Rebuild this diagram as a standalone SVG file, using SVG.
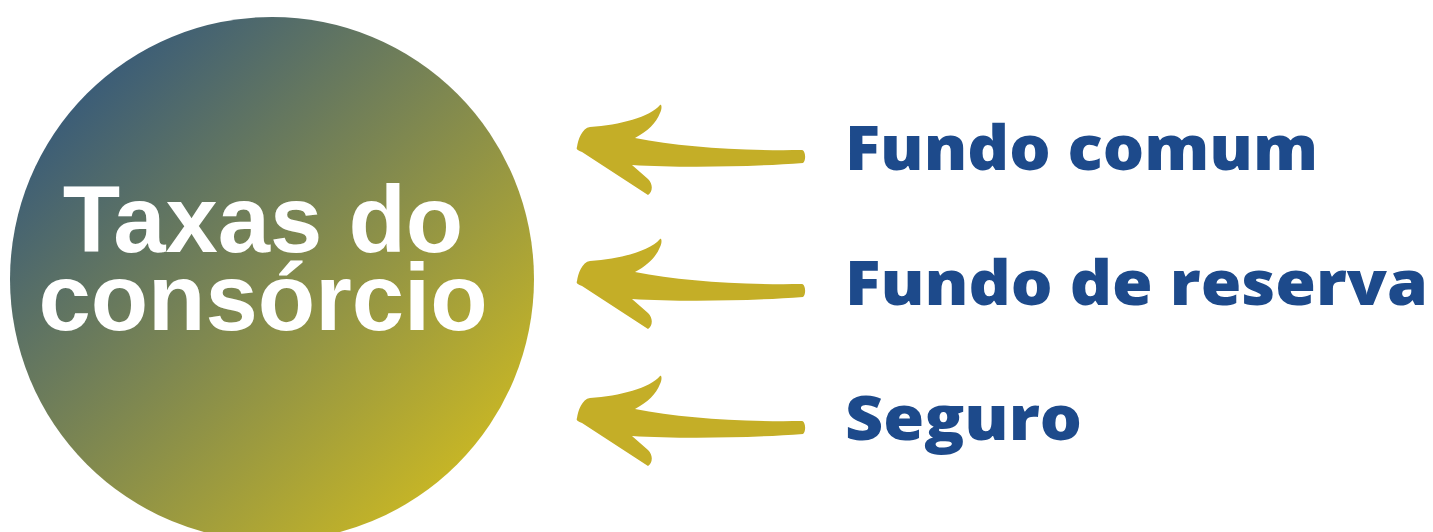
<svg xmlns="http://www.w3.org/2000/svg" width="1433" height="532" viewBox="0 0 1433 532">
<defs>
<linearGradient id="g" x1="0.12" y1="0.12" x2="0.92" y2="0.92">
<stop offset="0" stop-color="#375a7a"/>
<stop offset="1" stop-color="#d2bd1f"/>
</linearGradient>
<path id="arrow" d="M7,52 C8,45 12,33 20,32 C50,30 80,22 90,10 C92,8 92,15 90,18 C86,28 78,36 65,43 C110,52 170,56 232,55 C236,56 236,66 233,68 C180,72 110,73 62,70 L78,84 C84,90 82,98 78,100 L12,57 C7,55 6,54 7,52 Z"/>
</defs>
<style>
.lbl{font-family:"Open Sans","Liberation Sans",sans-serif;font-weight:800;font-size:62px;fill:#1d4a8b}
.title{font-family:"Liberation Sans",Arial,sans-serif;font-weight:bold;font-size:94px;fill:#fff}
.arr{fill:#c4ae27}
</style>
<rect width="1433" height="532" fill="#fff"/>
<g id="circle">
<circle cx="272" cy="279" r="262" fill="url(#g)"/>
<text class="title" x="263" y="252" text-anchor="middle">Taxas do</text>
<text class="title" x="263" y="330" text-anchor="middle">consórcio</text>
</g>
<g id="connectors">
<use href="#arrow" class="arr" transform="translate(570,95)"/>
<use href="#arrow" class="arr" transform="translate(570,229)"/>
<use href="#arrow" class="arr" transform="translate(570,366)"/>
</g>
<g id="n1"><text class="lbl" x="845" y="170" textLength="473" lengthAdjust="spacingAndGlyphs">Fundo comum</text></g>
<g id="n2"><text class="lbl" x="845" y="305" textLength="583" lengthAdjust="spacingAndGlyphs">Fundo de reserva</text></g>
<g id="n3"><text class="lbl" x="845" y="440" textLength="237" lengthAdjust="spacingAndGlyphs">Seguro</text></g>
</svg>
